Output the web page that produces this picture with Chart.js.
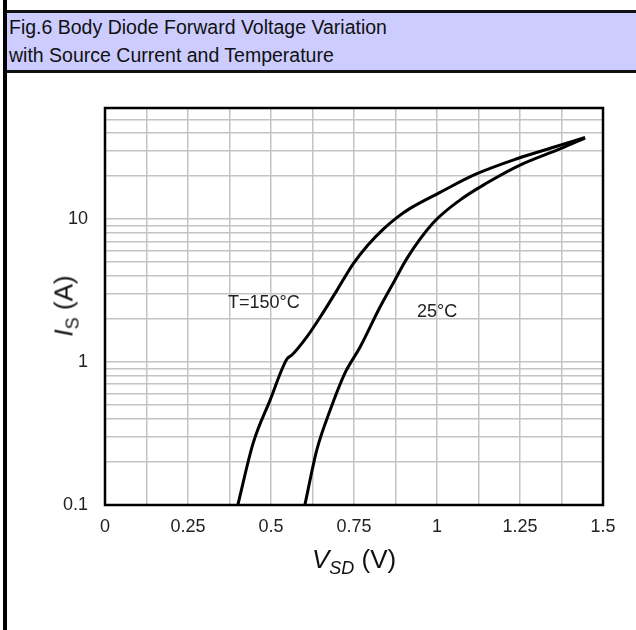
<!DOCTYPE html>
<html>
<head>
<meta charset="utf-8">
<script src="https://cdn.jsdelivr.net/npm/chart.js@4.4.0/dist/chart.umd.min.js"></script>
<style>
  html, body { margin: 0; padding: 0; background: #fff; }
  body { width: 636px; height: 630px; position: relative; overflow: hidden; font-family: "Liberation Sans", Arial, sans-serif; }
  #grafico { position: absolute; left: 0; top: 0; }
  #barraIzq { position: absolute; left: 3px; top: 0; width: 4px; height: 630px; background: #000; }
  #titulo {
    position: absolute; left: 3px; top: 10px; width: 633px; height: 57px;
    background: #ccccff; border-top: 3px solid #111; border-bottom: 3px solid #111;
    font-size: 19.5px; line-height: 28px; color: #111; box-sizing: content-box;
  }
  #titulo div { padding-left: 6px; }
  .etiqueta { position: absolute; font-size: 18px; color: #222; white-space: nowrap; }
  .ejeTitulo { position: absolute; font-size: 26px; color: #111; white-space: nowrap; }
  .ejeTitulo sub { font-size: 18px; vertical-align: -6px; }
</style>
</head>
<body>
<canvas id="grafico" width="636" height="630"></canvas>
<div id="titulo"><div>Fig.6 Body Diode Forward Voltage Variation</div><div>with Source Current and Temperature</div></div>
<div id="barraIzq"></div>
<div class="etiqueta" style="left:228px; top:292px;">T=150°C</div>
<div class="etiqueta" style="left:417px; top:301px;">25°C</div>
<div class="ejeTitulo" style="left:312px; top:544px;"><i>V</i><sub><i>SD</i></sub> (V)</div>
<div class="ejeTitulo" style="left:66px; top:306px; transform: translate(-50%, -50%) rotate(-90deg);"><i>I</i><sub>S</sub> (A)</div>

<script>
// Curva T=150°C (VSD en V, IS en A)
var vsd150 = [0.40, 0.446, 0.497, 0.548, 0.563, 0.608, 0.648, 0.699, 0.747, 0.792, 0.840, 0.880, 0.919, 1.009, 1.120, 1.241, 1.361, 1.446];
var is150  = [0.10, 0.27, 0.54, 1.05, 1.12, 1.50, 2.06, 3.19, 4.85, 6.6, 8.6, 10.3, 11.9, 15.4, 20.8, 26.5, 32.4, 37.4];

// Curva 25°C
var vsd25 = [0.602, 0.638, 0.678, 0.723, 0.768, 0.828, 0.873, 0.910, 0.988, 1.069, 1.150, 1.250, 1.370, 1.446];
var is25  = [0.10, 0.243, 0.46, 0.84, 1.27, 2.42, 3.74, 5.34, 9.4, 13.6, 17.9, 23.9, 31.0, 37.0];

// Ejes
var xMin = 0, xMax = 1.5, xPaso = 0.125;
var xEtiquetas = [0, 0.25, 0.5, 0.75, 1, 1.25, 1.5];
var yMin = 0.1, yMax = 60;
var yEtiquetas = [0.1, 1, 10];
var yRejilla = [0.1, 0.2, 0.3, 0.4, 0.5, 0.6, 0.7, 0.8, 0.9,
                1, 2, 3, 4, 5, 6, 7, 8, 9,
                10, 20, 30, 40, 50, 60];

function aPuntos(xs, ys) {
  var puntos = [];
  for (let i = 0; i < xs.length; i++) {
    puntos.push({ x: xs[i], y: ys[i] });
  }
  return puntos;
}

// Marco negro alrededor del area del grafico
const marco = {
  id: "marco",
  afterDraw(chart) {
    const a = chart.chartArea;
    const ctx = chart.ctx;
    ctx.save();
    ctx.strokeStyle = "#000";
    ctx.lineWidth = 2.5;
    ctx.strokeRect(a.left, a.top, a.right - a.left, a.bottom - a.top);
    ctx.restore();
  },
};

const config = {
  type: "line",
  data: {
    datasets: [
      { label: "T=150°C", data: aPuntos(vsd150, is150), borderColor: "#000", borderWidth: 3, pointRadius: 0, cubicInterpolationMode: "monotone", fill: false },
      { label: "25°C", data: aPuntos(vsd25, is25), borderColor: "#000", borderWidth: 3, pointRadius: 0, cubicInterpolationMode: "monotone", fill: false },
    ],
  },
  options: {
    responsive: false,
    animation: false,
    layout: { padding: { top: 108, right: 33, left: 0, bottom: 0 } },
    plugins: { legend: { display: false }, tooltip: { enabled: false } },
    scales: {
      x: {
        type: "linear",
        min: xMin,
        max: xMax,
        afterFit: function (scale) { scale.height = 125; },
        ticks: {
          stepSize: xPaso,
          padding: 11,
          color: "#222",
          font: { family: "Liberation Sans", size: 18 },
          maxRotation: 0,
          autoSkip: false,
          callback: function (valor) {
            for (let i = 0; i < xEtiquetas.length; i++) {
              if (Math.abs(valor - xEtiquetas[i]) < 1e-6) return String(xEtiquetas[i]);
            }
            return "";
          },
        },
        grid: { color: "#c4c4c4", lineWidth: 1.5, drawTicks: false },
        border: { display: false },
      },
      y: {
        type: "logarithmic",
        min: yMin,
        max: yMax,
        afterFit: function (scale) { scale.width = 105; },
        afterBuildTicks: function (scale) {
          scale.ticks = yRejilla.map(function (v) { return { value: v }; });
        },
        ticks: {
          padding: 17,
          color: "#222",
          font: { family: "Liberation Sans", size: 18 },
          autoSkip: false,
          callback: function (valor) {
            for (let i = 0; i < yEtiquetas.length; i++) {
              if (Math.abs(valor - yEtiquetas[i]) < 1e-6 * yEtiquetas[i]) return String(yEtiquetas[i]);
            }
            return "";
          },
        },
        grid: { color: "#c4c4c4", lineWidth: 1.5, drawTicks: false },
        border: { display: false },
      },
    },
  },
  plugins: [marco],
};

const ctx = document.getElementById("grafico").getContext("2d");
new Chart(ctx, config);
</script>
</body>
</html>
